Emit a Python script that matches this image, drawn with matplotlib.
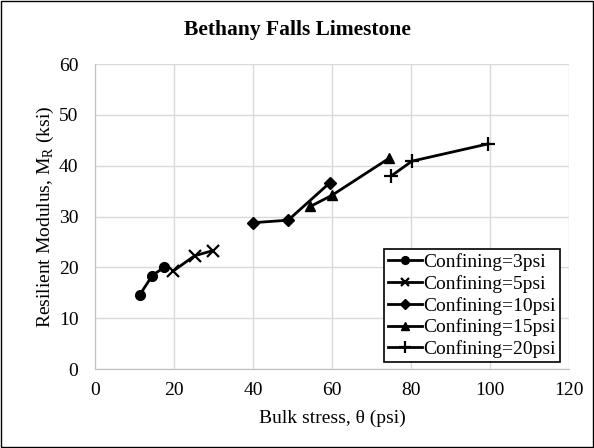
import matplotlib
matplotlib.use('Agg')
import matplotlib.pyplot as plt
from matplotlib.patches import Rectangle

plt.rcParams['font.family'] = ['Liberation Serif', 'DejaVu Serif']

# Bulk stress (psi) and resilient modulus (ksi) per confining pressure
x_3 = [11.3, 14.5, 17.4]
y_3 = [14.6, 18.4, 20.0]
x_5 = [19.8, 25.2, 29.8]
y_5 = [19.3, 22.3, 23.3]
x_10 = [40.0, 48.9, 59.5]
y_10 = [28.8, 29.3, 36.7]
x_15 = [54.5, 60.0, 74.5]
y_15 = [32.0, 34.2, 41.5]
x_20 = [75.0, 80.2, 99.5]
y_20 = [38.0, 40.9, 44.3]

labels = ['Confining=3psi', 'Confining=5psi', 'Confining=10psi',
          'Confining=15psi', 'Confining=20psi']

fig = plt.figure(figsize=(5.94, 4.48), dpi=100)
ax = fig.add_axes([0.160, 0.176, 0.798, 0.681])

ax.plot(x_3, y_3, color='black', lw=2, marker='o', ms=7, label=labels[0])
ax.plot(x_5, y_5, color='black', lw=2, marker='x', ms=8, mew=1.6, label=labels[1])
ax.plot(x_10, y_10, color='black', lw=2, marker='D', ms=6, label=labels[2])
ax.plot(x_15, y_15, color='black', lw=2, marker='^', ms=7, label=labels[3])
ax.plot(x_20, y_20, color='black', lw=2, marker='+', ms=10, mew=1.6, label=labels[4])

ax.set_xlim(0, 120)
ax.set_ylim(0, 60)
ax.set_xticks(range(0, 121, 20))
ax.set_yticks(range(0, 61, 10))
ax.grid(True, color='#d9d9d9', lw=1)
ax.set_axisbelow(True)
for side in ['top', 'right']:
    ax.spines[side].set_visible(False)
ax.spines['left'].set_color('#bfbfbf')
ax.spines['bottom'].set_color('#bfbfbf')
ax.tick_params(axis='x', length=0, labelsize=14, pad=9)
ax.tick_params(axis='y', length=0, labelsize=14, pad=12)

ax.set_xlabel('Bulk stress, θ (psi)', fontsize=14, labelpad=8)
ax.set_ylabel('Resilient Modulus, M$_\\mathregular{R}$ (ksi)', fontsize=14, labelpad=2)
fig.text(0.5, 0.933, 'Bethany Falls Limestone', fontsize=15.5, fontweight='bold',
         ha='center', va='center')

leg = ax.legend(loc='lower right', bbox_to_anchor=(0.981, 0.023), fontsize=14,
                frameon=True, fancybox=False, edgecolor='black', framealpha=1,
                borderpad=0.2, labelspacing=0.2, handlelength=1.75,
                handletextpad=0.1, borderaxespad=0, markerscale=0.8)
leg.get_frame().set_linewidth(1.2)

fig.patches.append(Rectangle((0.002, 0.002), 0.996, 0.996, transform=fig.transFigure,
                             fill=False, edgecolor='black', lw=1))

fig.savefig('out.png', dpi=100)
